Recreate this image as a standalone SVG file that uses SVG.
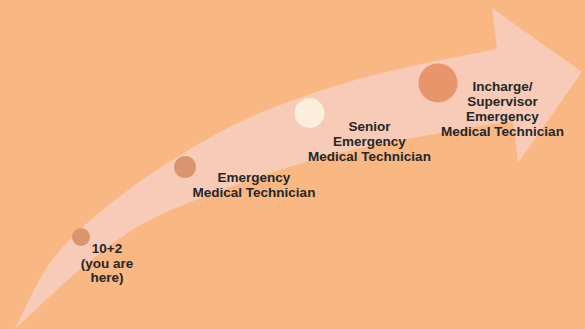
<svg xmlns="http://www.w3.org/2000/svg" width="585" height="329" viewBox="0 0 585 329">
<style>
.lbl{font-family:"Liberation Sans",Arial,sans-serif;font-weight:bold;font-size:13.5px;fill:#262626;text-anchor:middle}
.dot{fill:#D99470}
</style>
<rect x="0" y="0" width="585" height="329" fill="#F9B783"/>
<g id="connectors">
<path id="arrow" fill="#F7CBB7" d="M15,329 C20.8,318 35.8,282.5 50,263 C64.2,243.5 78.8,229.7 100,212 C121.2,194.3 150.3,173.5 177,157 C203.7,140.5 227.8,126.5 260,113 C292.2,99.5 330.5,86.7 370,76 C409.5,65.3 475.8,53.5 497,49 L492,8 L582,72 L518,163 L513,121 C500.8,123 468.8,127.7 440,133 C411.2,138.3 371.7,145.2 340,153 C308.3,160.8 281.7,168.8 250,180 C218.3,191.2 177.8,205.5 150,220 C122.2,234.5 105.5,248.8 83,267 C60.5,285.2 26.3,318.7 15,329 Z"/>
</g>
<g id="node1">
<circle class="dot" cx="81" cy="237" r="9"/>
<text class="lbl" x="107" y="253">10+2</text>
<text class="lbl" x="107" y="267.5">(you are</text>
<text class="lbl" x="107" y="282">here)</text>
</g>
<g id="node2">
<circle class="dot" cx="185" cy="167" r="11"/>
<text class="lbl" x="254" y="182">Emergency</text>
<text class="lbl" x="254" y="197">Medical Technician</text>
</g>
<g id="node3">
<circle cx="309.5" cy="113" r="15" fill="#FBEEDD"/>
<text class="lbl" x="369.5" y="130.5">Senior</text>
<text class="lbl" x="369.5" y="146">Emergency</text>
<text class="lbl" x="369.5" y="161">Medical Technician</text>
</g>
<g id="node4">
<circle cx="438" cy="83" r="19.5" fill="#E8956B"/>
<text class="lbl" x="502.5" y="90.7">Incharge/</text>
<text class="lbl" x="502.5" y="106">Supervisor</text>
<text class="lbl" x="502.5" y="121">Emergency</text>
<text class="lbl" x="502.5" y="136">Medical Technician</text>
</g>
</svg>
